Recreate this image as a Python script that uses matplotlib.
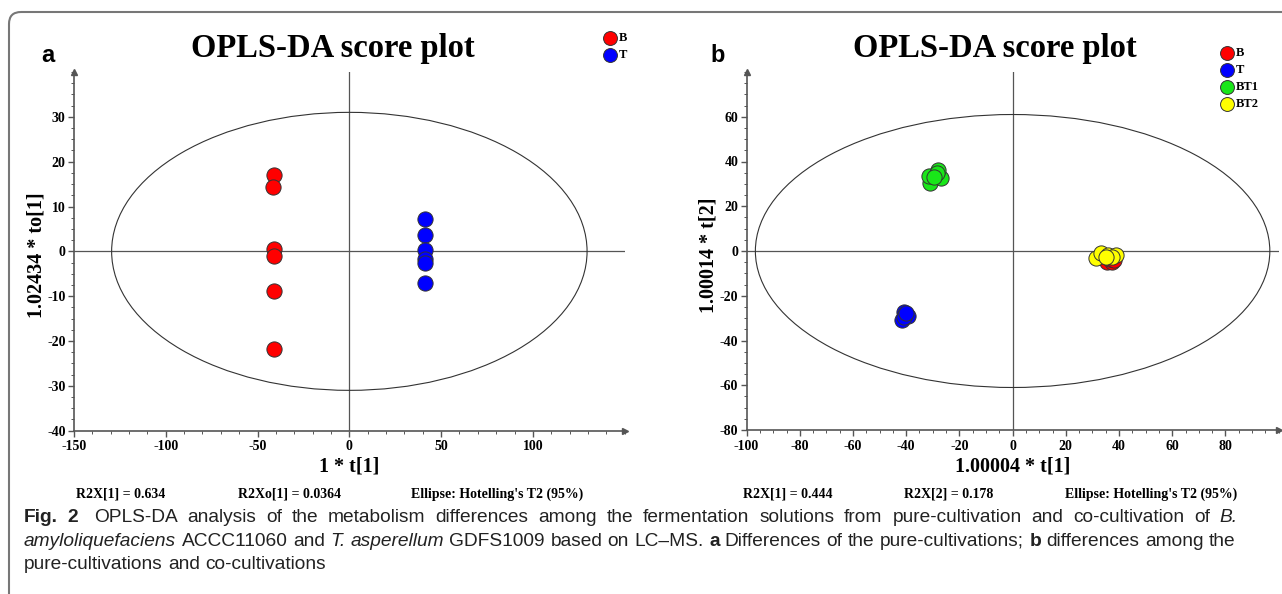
import matplotlib
matplotlib.use('Agg')
import matplotlib.pyplot as plt
from matplotlib.patches import Ellipse, FancyBboxPatch
from matplotlib.ticker import FixedLocator, MultipleLocator

# ---------------- data ----------------
a_groups = ['B', 'T']
a_B_x = [-41.3, -41.6, -41.2, -41.3, -41.3, -41.2]
a_B_y = [17.0, 14.4, 0.5, -1.0, -8.8, -21.8]
a_T_x = [41.3, 41.1, 41.2, 41.3, 41.2, 41.0]
a_T_y = [7.3, 3.7, 0.3, -1.7, -2.5, -7.0]
a_ellipse = (129.5, 31.0)
a_xticks = [-150, -100, -50, 0, 50, 100]
a_yticks = [-40, -30, -20, -10, 0, 10, 20, 30]

b_groups = ['B', 'T', 'BT1', 'BT2']
b_B_x = [34.5, 35.5, 37.5, 36.5, 38.0, 35.0]
b_B_y = [-3.0, -4.8, -5.0, -3.5, -4.0, -2.5]
b_T_x = [-41.0, -41.5, -39.5, -40.5, -41.0, -40.0]
b_T_y = [-27.2, -31.0, -29.0, -28.0, -29.5, -27.5]
b_BT1_x = [-31.1, -31.6, -27.0, -28.0, -28.5, -29.5]
b_BT1_y = [30.2, 33.4, 32.7, 36.4, 34.9, 33.0]
b_BT2_x = [31.4, 33.1, 36.0, 38.9, 37.2, 35.1]
b_BT2_y = [-3.0, -0.7, -1.6, -1.6, -2.7, -2.7]
b_ellipse = (96.7, 61.0)
b_xticks = [-100, -80, -60, -40, -20, 0, 20, 40, 60, 80]
b_yticks = [-80, -60, -40, -20, 0, 20, 40, 60]

colors = {'B': '#ff0000', 'T': '#0000ff', 'BT1': '#19e619', 'BT2': '#ffff00'}

a_stats = ['R2X[1] = 0.634', 'R2Xo[1] = 0.0364', "Ellipse: Hotelling's T2 (95%)"]
b_stats = ['R2X[1] = 0.444', 'R2X[2] = 0.178', "Ellipse: Hotelling's T2 (95%)"]

# ---------------- figure ----------------
W, H = 1282, 594
plt.rcParams['font.family'] = 'Liberation Serif'
plt.rcParams['font.weight'] = 'bold'
plt.rcParams['axes.unicode_minus'] = False
fig = plt.figure(figsize=(W / 100, H / 100), dpi=100)
SERIF = 'Liberation Serif'
SANS = 'Liberation Sans'
AX_COL = '#555555'


def px_axes(l, t, r, b):
    return fig.add_axes([l / W, 1 - b / H, (r - l) / W, (b - t) / H])


def style_axes(ax, xlim, ylim, xt, yt, xmin, ymin, ell):
    ax.set_xlim(xlim)
    ax.set_ylim(ylim)
    ax.set_facecolor('none')
    ax.spines[['top', 'right']].set_visible(False)
    for s in ['left', 'bottom']:
        ax.spines[s].set_color(AX_COL)
        ax.spines[s].set_linewidth(1.2)
    ax.xaxis.set_major_locator(FixedLocator(xt))
    ax.yaxis.set_major_locator(FixedLocator(yt))
    ax.xaxis.set_minor_locator(MultipleLocator(xmin))
    ax.yaxis.set_minor_locator(MultipleLocator(ymin))
    ax.tick_params(which='major', length=4, width=1, color=AX_COL, pad=2,
                   labelsize=10)
    ax.tick_params(axis='x', which='major', pad=3)
    ax.tick_params(which='minor', length=2, width=0.7, color=AX_COL)
    ax.axhline(0, color='#555555', lw=0.9, zorder=1)
    ax.axvline(0, color='#555555', lw=0.9, zorder=1)
    ax.add_patch(Ellipse((0, 0), 2 * ell[0], 2 * ell[1], fill=False,
                         ec='#333333', lw=0.8, zorder=2))
    ax.plot([1], [0], marker='>', transform=ax.transAxes, clip_on=False,
            color=AX_COL, ms=5, zorder=5)
    ax.plot([0], [1], marker='^', transform=ax.transAxes, clip_on=False,
            color=AX_COL, ms=5, zorder=5)


MS = 120
EC = '#333333'

# panel a
axa = px_axes(74, 72, 624.7, 430.7)
style_axes(axa, (-150, 150), (-40, 40), a_xticks, a_yticks, 10, 2.5, a_ellipse)
axa.scatter(a_B_x, a_B_y, s=MS, c=colors['B'], edgecolors=EC, linewidths=0.7, zorder=3)
axa.scatter(a_T_x, a_T_y, s=MS, c=colors['T'], edgecolors=EC, linewidths=0.7, zorder=3)

# panel b
axb = px_axes(746.6, 72, 1278.6, 430)
style_axes(axb, (-100, 100), (-80, 80), b_xticks, b_yticks, 5, 5, b_ellipse)
for g, xs, ys in [('B', b_B_x, b_B_y), ('T', b_T_x, b_T_y),
                  ('BT1', b_BT1_x, b_BT1_y), ('BT2', b_BT2_x, b_BT2_y)]:
    axb.scatter(xs, ys, s=MS, c=colors[g], edgecolors=EC, linewidths=0.7, zorder=3)

# ---------------- overlay in pixel coordinates ----------------
ov = fig.add_axes([0, 0, 1, 1])
ov.set_xlim(0, W)
ov.set_ylim(H, 0)
ov.axis('off')
ov.set_zorder(10)

ov.add_patch(FancyBboxPatch((9, 12), 1500, 700,
                            boxstyle='round,pad=0,rounding_size=12',
                            fill=False, ec='#777777', lw=1.5, clip_on=False))

# titles
for cx in (332.5, 995):
    ov.text(cx, 48, 'OPLS-DA score plot', fontsize=23.5, family=SERIF,
            weight='bold', ha='center', va='center')
ov.text(48, 55, 'a', fontsize=17, family=SANS, weight='bold', ha='center', va='center')
ov.text(718, 55, 'b', fontsize=17, family=SANS, weight='bold', ha='center', va='center')

# legends
for i, g in enumerate(a_groups):
    y = 37.7 + i * 17.3
    ov.plot([609.5], [y], marker='o', ms=10, mfc=colors[g], mec=EC, mew=0.7)
    ov.text(618.5, y, g, fontsize=9, family=SERIF, weight='bold', ha='left', va='center')
for i, g in enumerate(b_groups):
    y = 52.7 + i * 17.2
    ov.plot([1226.7], [y], marker='o', ms=10, mfc=colors[g], mec=EC, mew=0.7)
    ov.text(1236, y, g, fontsize=9, family=SERIF, weight='bold', ha='left', va='center')

# axis labels
ov.text(37, 255, '1.02434 * to[1]', fontsize=14.5, family=SERIF, weight='bold',
        rotation=90, ha='center', va='center')
ov.text(709, 255, '1.00014 * t[2]', fontsize=14.5, family=SERIF, weight='bold',
        rotation=90, ha='center', va='center')
ov.text(349.4, 466, '1 * t[1]', fontsize=14.5, family=SERIF, weight='bold',
        ha='center', va='center')
ov.text(1012.6, 466, '1.00004 * t[1]', fontsize=14.5, family=SERIF, weight='bold',
        ha='center', va='center')

# stats
for cx, s in zip((121, 290, 497), a_stats):
    ov.text(cx, 494.5, s, fontsize=10, family=SERIF, weight='bold', ha='center', va='center')
for cx, s in zip((788, 949, 1151), b_stats):
    ov.text(cx, 494.5, s, fontsize=10, family=SERIF, weight='bold', ha='center', va='center')

# caption with mixed styles (justified like the journal layout)
renderer = fig.canvas.get_renderer()
CAP_FS = 13.8


def run_props(style):
    p = dict(fontsize=CAP_FS, family=SANS, weight='normal', style='normal')
    if 'b' in style:
        p['weight'] = 'bold'
    if 'i' in style:
        p['style'] = 'italic'
    return p


def text_width(s, props):
    t = ov.text(0, 0, s, **props)
    w = t.get_window_extent(renderer).width
    t.remove()
    return w


def space_width(props):
    return text_width('a a', props) - text_width('aa', props)


def layout_runs(runs):
    """Return list of (word, props, spaces_before) and natural width."""
    items = []
    for s, style in runs:
        p = run_props(style)
        sw = space_width(p)
        pending = 0
        for ch_block in s.split(' '):
            if ch_block == '':
                pending += 1
                continue
            items.append([ch_block, p, pending, sw])
            pending = 1
        if pending and s.endswith(' '):
            items.append(['', p, pending - 1 if s.split(' ')[-1] == '' else 0, sw])
    return items


def draw_runs(x0, y, runs, target=None):
    # flatten to tokens: (text, props, n_space_before, space_w)
    tokens = []
    carry = 0
    for s, style in runs:
        p = run_props(style)
        sw = space_width(p)
        parts = s.split(' ')
        for k, part in enumerate(parts):
            if k > 0:
                carry += 1
            if part:
                tokens.append((part, p, carry, sw))
                carry = 0
    widths = [text_width(t[0], t[1]) for t in tokens]
    natural = sum(widths) + sum(t[2] * t[3] for t in tokens)
    n_gaps = sum(1 for t in tokens if t[2] > 0)
    extra = 0.0
    if target is not None and n_gaps > 0:
        extra = max(0.0, (target - natural) / n_gaps)
    x = x0
    for (txt, p, nsp, sw), w in zip(tokens, widths):
        if nsp > 0:
            x += nsp * sw + extra
        ov.text(x, y, txt, ha='left', va='baseline', color='#222222', **p)
        x += w


caption_lines = [
    [('Fig. 2', 'b'),
     ('  OPLS-DA analysis of the metabolism differences among the fermentation solutions '
      'from pure-cultivation and co-cultivation of ', ''),
     ('B.', 'i')],
    [('amyloliquefaciens', 'i'), (' ACCC11060 and ', ''), ('T. asperellum', 'i'),
     (' GDFS1009 based on LC\u2013MS. ', ''), ('a', 'b'),
     (' Differences of the pure-cultivations; ', ''), ('b', 'b'),
     (' differences among the', '')],
    [('pure-cultivations and co-cultivations', '')],
]
targets = [1238 - 24, None, None]
for i, line in enumerate(caption_lines):
    draw_runs(24, 522 + i * 23.5, line, targets[i])

fig.savefig('out.png', dpi=100)
